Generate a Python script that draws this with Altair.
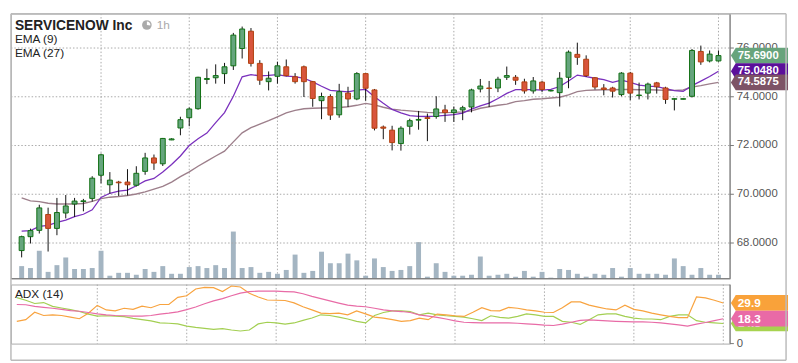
import altair as alt
import pandas as pd

# ---------------- data ----------------
idx = list(range(80))

open_ = [67.69, 68.26, 68.52, 69.17, 68.60, 69.23, 69.60, 69.70, 69.83, 70.78,
         70.39, 70.50, 70.50, 70.37, 70.94, 71.49, 71.25, 72.23, 72.72, 73.14,
         73.51, 74.71, 74.78, 74.95, 75.27, 75.98, 76.69, 75.37, 74.62, 74.84,
         75.23, 74.82, 75.23, 74.62, 73.84, 74.01, 73.26, 74.15, 73.91, 74.95,
         74.28, 72.76, 72.63, 72.08, 72.79, 73.04, 73.14, 73.19, 73.46, 73.35,
         73.46, 73.58, 74.32, 74.36, 74.36, 74.80, 74.80, 74.61, 74.24, 74.60,
         74.24, 74.17, 74.80, 75.74, 75.54, 74.78, 74.36, 74.36, 74.09, 74.97,
         74.05, 74.15, 74.57, 74.36, 73.90, 73.90, 74.02, 75.86, 75.47, 75.47]

close = [68.26, 68.51, 69.44, 68.60, 69.25, 69.52, 69.72, 69.73, 70.66, 71.62,
         70.58, 70.47, 70.39, 70.86, 71.49, 71.28, 72.29, 72.27, 73.06, 73.50,
         74.80, 74.75, 74.87, 75.23, 76.53, 76.78, 75.37, 74.68, 74.76, 75.27,
         74.87, 74.62, 74.62, 73.93, 74.01, 73.25, 74.21, 73.91, 74.95, 74.35,
         72.71, 72.71, 72.12, 72.71, 73.02, 73.07, 73.11, 73.50, 73.35, 73.46,
         73.55, 74.28, 74.44, 74.34, 74.72, 74.87, 74.68, 74.24, 74.65, 74.30,
         74.26, 74.76, 75.83, 75.62, 74.87, 74.40, 74.30, 74.23, 74.97, 74.15,
         74.07, 74.52, 74.41, 73.89, 73.92, 73.92, 75.90, 75.43, 75.75, 75.69]

high = [68.30, 68.59, 69.57, 69.45, 69.85, 69.97, 69.85, 69.81, 70.74, 71.67,
        70.91, 70.55, 71.03, 71.15, 71.70, 71.63, 72.31, 72.30, 73.18, 73.56,
        74.82, 75.15, 75.33, 75.39, 76.62, 76.88, 76.82, 75.50, 75.04, 75.44,
        75.53, 74.97, 75.28, 74.65, 74.17, 74.10, 74.53, 74.41, 75.01, 74.96,
        74.32, 72.82, 72.81, 72.79, 73.10, 73.42, 73.31, 74.02, 73.67, 73.60,
        73.63, 74.33, 74.73, 74.65, 74.82, 75.24, 74.89, 74.74, 74.81, 74.65,
        74.28, 75.01, 75.90, 76.22, 75.70, 74.81, 74.52, 74.41, 75.01, 75.02,
        74.58, 74.58, 74.61, 74.41, 73.94, 73.93, 75.96, 76.10, 75.90, 75.90]

low = [67.41, 67.98, 68.39, 67.65, 68.32, 69.01, 69.07, 69.30, 69.70, 70.45,
       70.03, 69.93, 69.95, 70.32, 70.80, 71.00, 71.16, 72.22, 72.42, 72.79,
       73.47, 74.52, 74.54, 74.53, 75.10, 75.57, 75.24, 74.49, 74.26, 74.54,
       74.84, 74.54, 73.99, 73.59, 73.08, 73.05, 73.14, 73.58, 73.86, 73.84,
       72.62, 72.26, 71.80, 71.79, 72.45, 72.65, 72.18, 73.10, 72.97, 72.97,
       73.04, 73.36, 74.18, 73.58, 74.19, 74.69, 74.49, 74.13, 74.13, 74.19,
       74.22, 73.60, 74.35, 75.31, 74.82, 74.30, 74.06, 73.97, 74.02, 73.86,
       73.89, 73.89, 74.13, 73.71, 73.44, 73.89, 73.97, 75.31, 75.41, 75.44]

volume_k = [13, 11, 29, 7, 14, 22, 10, 10, 11, 29,
            3, 6, 6, 4, 10, 7, 13, 5, 5, 12,
            13, 11, 14, 11, 49, 11, 12, 6, 7, 5,
            9, 25, 6, 8, 28, 16, 16, 26, 19, 3,
            21, 12, 8, 9, 13, 38, 2, 16, 7, 3,
            3, 4, 23, 3, 4, 5, 2, 8, 2, 7,
            1, 10, 9, 5, 2, 5, 4, 11, 2, 11,
            5, 5, 5, 4, 21, 13, 4, 11, 4, 4]

ema9 = [68.49, 68.51, 68.68, 68.72, 68.85, 68.94, 69.08, 69.18, 69.36, 69.87,
        70.04, 70.13, 70.17, 70.35, 70.55, 70.65, 70.91, 71.22, 71.57, 72.00,
        72.28, 72.51, 72.94, 73.35, 74.02, 74.82, 74.91, 74.86, 74.88, 74.91,
        74.85, 74.83, 74.76, 74.61, 74.43, 74.26, 74.23, 74.20, 74.27, 74.30,
        74.00, 73.73, 73.48, 73.34, 73.23, 73.20, 73.19, 73.21, 73.24, 73.27,
        73.33, 73.49, 73.63, 73.74, 73.93, 74.14, 74.29, 74.29, 74.29, 74.27,
        74.30, 74.42, 74.65, 74.89, 74.83, 74.76, 74.70, 74.59, 74.68, 74.59,
        74.48, 74.44, 74.42, 74.33, 74.25, 74.22, 74.46, 74.64, 74.83, 75.05]

ema27 = [69.85, 69.73, 69.70, 69.63, 69.60, 69.60, 69.60, 69.62, 69.71, 69.82,
         69.88, 69.91, 69.95, 70.01, 70.10, 70.21, 70.32, 70.50, 70.72, 70.92,
         71.15, 71.36, 71.57, 71.77, 72.15, 72.52, 72.73, 72.88, 73.02, 73.18,
         73.34, 73.44, 73.51, 73.53, 73.54, 73.55, 73.56, 73.59, 73.65, 73.73,
         73.67, 73.57, 73.49, 73.45, 73.42, 73.39, 73.36, 73.34, 73.35, 73.36,
         73.38, 73.42, 73.53, 73.59, 73.65, 73.70, 73.80, 73.84, 73.90, 73.92,
         73.95, 73.98, 74.08, 74.21, 74.26, 74.28, 74.29, 74.29, 74.30, 74.30,
         74.29, 74.29, 74.28, 74.26, 74.26, 74.28, 74.40, 74.46, 74.53, 74.59]

adx_orange = [16.4, 17.6, 23.1, 20.7, 21.2, 20.7, 19.5, 18.3, 22.4, 28.1,
              24.8, 24.1, 26.0, 25.2, 27.6, 26.4, 28.8, 28.8, 34.0, 35.2,
              40.2, 41.4, 41.2, 38.3, 42.4, 41.7, 37.1, 34.3, 32.1, 31.9,
              31.7, 30.0, 27.1, 24.8, 22.4, 22.1, 22.4, 21.2, 24.1, 21.9,
              19.5, 18.8, 17.6, 16.4, 16.9, 18.8, 17.6, 21.7, 21.2, 20.5,
              20.0, 23.1, 26.4, 24.3, 24.1, 26.7, 26.0, 24.8, 24.1, 23.1,
              22.9, 26.4, 30.7, 30.7, 28.3, 26.9, 25.5, 24.8, 28.3, 25.2,
              24.1, 22.4, 21.2, 20.0, 19.1, 19.1, 34.3, 33.6, 31.9, 29.9]

adx_pink = [28.8, 28.6, 27.4, 26.7, 26.0, 25.2, 24.3, 23.8, 22.9, 21.9,
            21.2, 20.7, 20.5, 20.2, 20.2, 20.7, 21.7, 22.4, 23.3, 25.0,
            26.9, 29.3, 31.4, 33.1, 35.2, 37.1, 38.3, 38.6, 38.6, 38.6,
            38.3, 38.1, 36.7, 34.8, 33.1, 31.4, 29.8, 28.3, 27.6, 27.1,
            26.0, 24.8, 24.1, 23.6, 22.9, 21.2, 20.2, 19.3, 18.1, 16.7,
            15.7, 15.5, 15.2, 15.2, 15.2, 15.2, 15.0, 14.5, 14.1, 13.6,
            13.3, 14.3, 15.7, 17.1, 17.4, 17.1, 16.7, 16.4, 16.2, 16.0,
            16.0, 15.7, 15.2, 14.5, 13.8, 12.9, 14.3, 15.5, 16.9, 18.3]

adx_green = [33.8, 31.9, 29.5, 30.2, 27.4, 26.2, 25.0, 23.6, 21.7, 20.2,
             20.5, 20.2, 19.8, 18.6, 17.6, 16.7, 15.2, 15.0, 14.5, 12.9,
             11.9, 11.2, 10.5, 11.0, 10.0, 9.3, 10.0, 14.5, 15.7, 15.2,
             14.3, 15.2, 17.1, 18.8, 21.2, 20.7, 19.5, 18.1, 16.4, 15.2,
             20.7, 22.9, 24.1, 24.1, 23.6, 21.2, 22.4, 21.2, 20.5, 20.0,
             19.5, 18.3, 16.9, 20.5, 19.3, 18.8, 20.0, 21.9, 21.2, 20.0,
             20.0, 16.4, 15.7, 14.1, 17.6, 21.2, 21.9, 21.9, 20.0, 18.8,
             18.1, 18.1, 17.6, 20.0, 21.2, 21.2, 16.9, 15.7, 15.2, 14.8]

tick_idx = [9, 19, 29, 39, 49, 59, 69, 79]
tick_labels = ['8h 10/01', '3h 10/05', '6h 10/06', '2h 10/08',
               '5h 10/09', '8h 10/12', '3h 10/14', '7h 10/15']
price_ticks = [68, 70, 72, 74, 76]
adx_ticks = [0]

price_tag_values = [75.69, 75.048, 74.5875]
price_tag_labels = ['75.6900', '75.0480', '74.5875']
price_tag_colors = ['#67a47c', '#5b0f9a', '#7d5366']

adx_tag_values = [14.8, 29.9, 18.3]
adx_tag_labels = ['14.8', '29.9', '18.3']
adx_tag_colors = ['#a7d34f', '#f9a23a', '#e96aa6']

# ---------------- tables ----------------
df = pd.DataFrame({'i': idx, 'open': open_, 'high': high, 'low': low, 'close': close,
                   'vol': volume_k, 'ema9': ema9, 'ema27': ema27,
                   'orange': adx_orange, 'pink': adx_pink, 'green': adx_green})
df['dir'] = ['up' if c >= o else 'down' for o, c in zip(open_, close)]

pticks = pd.DataFrame({'v': price_ticks})
aticks = pd.DataFrame({'v': adx_ticks})
xticks = pd.DataFrame({'i': tick_idx})
one = pd.DataFrame({'t': [1]})

# ---------------- layout ----------------
W, H1, H2, GAP = 730, 269, 60, 6
FR = W + 57          # right edge of outer frame
FB = 77              # bottom edge of outer frame (ADX panel coords)

xs = alt.Scale(domain=[-0.654, 79.74], nice=False, zero=False)
ps = alt.Scale(domain=[66.54, 77.41], nice=False, zero=False)
vs = alt.Scale(domain=[0, 276], nice=False, zero=True)
ads = alt.Scale(domain=[0, 43.5], nice=False, zero=True)

GRIDC = '#a9a9a9'
GDASH = [1.5, 2]
AXC = '#777'
TAG = "M-1,0L-0.83,-0.276L1,-0.276L1,0.276L-0.83,0.276Z"

base = alt.Chart(df)
x_none = alt.X('i:Q', scale=xs, axis=None)


def tag_layers(values, labels, colors, scale, fsize):
    """One tag (arrow box + white value text) per row, drawn in order so later tags cover earlier ones."""
    out = []
    for v, lab, c in zip(values, labels, colors):
        d = pd.DataFrame({'v': [v], 'label': [lab]})
        out.append(alt.Chart(d).mark_point(shape=TAG, size=58 * 58, filled=True, opacity=1,
                                           strokeWidth=0, color=c).encode(
            x=alt.value(W + 30), y=alt.Y('v:Q', scale=scale, axis=None)))
        out.append(alt.Chart(d).mark_text(align='left', baseline='middle', color='white',
                                          fontSize=fsize, fontWeight='bold').encode(
            x=alt.value(W + 8), y=alt.Y('v:Q', scale=scale, axis=None), text='label:N'))
    return out


# ---------------- main (price) panel ----------------
grid_v = alt.Chart(xticks).mark_rule(color=GRIDC, strokeDash=GDASH, strokeWidth=1).encode(
    x=x_none, y=alt.value(0), y2=alt.value(H1))

vol = base.mark_bar(size=5, color='#a4b5c2').encode(
    x=x_none, y=alt.Y('vol:Q', scale=vs, axis=None))

grid_h = alt.Chart(pticks).mark_rule(color=GRIDC, strokeDash=GDASH, strokeWidth=1).encode(
    x=alt.value(0), x2=alt.value(W), y=alt.Y('v:Q', scale=ps, axis=None))
tick_h = alt.Chart(pticks).mark_rule(color=AXC, strokeWidth=1).encode(
    x=alt.value(W), x2=alt.value(W + 4), y=alt.Y('v:Q', scale=ps, axis=None))
lab_h = alt.Chart(pticks).mark_text(align='left', baseline='middle', fontSize=11.5, color='#555').encode(
    x=alt.value(W + 7), y=alt.Y('v:Q', scale=ps, axis=None), text=alt.Text('v:Q', format='.4f'))

e27 = base.mark_line(color='#9d7f8b', strokeWidth=1.4).encode(
    x=x_none, y=alt.Y('ema27:Q', scale=ps, axis=None))
e9 = base.mark_line(color='#7a30bd', strokeWidth=1.3).encode(
    x=x_none, y=alt.Y('ema9:Q', scale=ps, axis=None))
wick = base.mark_rule(color='#111', strokeWidth=1).encode(
    x=x_none, y=alt.Y('low:Q', scale=ps, axis=None), y2='high:Q')
body = base.mark_bar(size=5, strokeWidth=1).encode(
    x=x_none, y=alt.Y('open:Q', scale=ps, axis=None), y2='close:Q',
    fill=alt.Fill('dir:N', scale=alt.Scale(domain=['up', 'down'], range=['#65a57d', '#d8553c']), legend=None),
    stroke=alt.Stroke('dir:N', scale=alt.Scale(domain=['up', 'down'], range=['#0f6f12', '#b0400e']), legend=None))

price = alt.layer(grid_h, e27, e9, wick, body, tick_h, lab_h,
                  *tag_layers(price_tag_values, price_tag_labels, price_tag_colors, ps, 11.5))

dom_r = alt.Chart(one).mark_rule(color=AXC, strokeWidth=1).encode(
    x=alt.value(W), y=alt.value(0), y2=alt.value(H1))
dom_b = alt.Chart(one).mark_rule(color=AXC, strokeWidth=1).encode(
    x=alt.value(0), x2=alt.value(W), y=alt.value(H1))

title = alt.Chart(pd.DataFrame({'t': ['SERVICENOW Inc']})).mark_text(
    align='left', baseline='alphabetic', fontSize=14, fontWeight='bold', color='#222').encode(
    text='t:N', x=alt.value(4), y=alt.value(16.5))
hour = alt.Chart(pd.DataFrame({'t': ['1h']})).mark_text(
    align='left', baseline='alphabetic', fontSize=12, color='#aaa').encode(
    text='t:N', x=alt.value(148), y=alt.value(16))
clock = alt.Chart(one).mark_point(
    shape='circle', size=95, filled=True, opacity=1, color='#aaa').encode(
    x=alt.value(138), y=alt.value(11.5))
clock_w = alt.Chart(one).mark_arc(
    radius=3.6, theta=0, theta2=1.75, color='white').encode(
    x=alt.value(138), y=alt.value(11.5))
leg = alt.Chart(pd.DataFrame({'t': ['EMA (9)', 'EMA (27)'], 'y': [30, 44]})).mark_text(
    align='left', baseline='alphabetic', fontSize=12, color='#222').encode(
    text='t:N', x=alt.value(4), y=alt.Y('y:Q', scale=None, axis=None))
frame_top = alt.Chart(one).mark_rule(color='#bbb', strokeWidth=1.5).encode(
    x=alt.value(0), x2=alt.value(FR), y=alt.value(0))

main = alt.layer(grid_v, vol, price, dom_r, dom_b, title, hour, clock, clock_w, leg,
                 frame_top).resolve_scale(y='independent').properties(width=W, height=H1)

# ---------------- ADX panel ----------------
expr = " : ".join(f"datum.value == {v} ? '{s}'" for v, s in zip(tick_idx, tick_labels)) + " : ''"
x_adx = alt.X('i:Q', scale=xs, axis=alt.Axis(values=tick_idx, labelExpr=expr, grid=False,
                                             ticks=True, tickSize=4, tickColor='#999',
                                             domainColor=AXC, labelColor='#444',
                                             labelFontSize=11.5, labelPadding=2, title=None))

grid_va = alt.Chart(xticks).mark_rule(color=GRIDC, strokeDash=GDASH, strokeWidth=1).encode(
    x=x_none, y=alt.value(0), y2=alt.value(H2))

l_green = base.mark_line(color='#a3cf52', strokeWidth=1.2).encode(
    x=x_adx, y=alt.Y('green:Q', scale=ads, axis=None))
l_pink = base.mark_line(color='#e86ba6', strokeWidth=1.2).encode(
    x=x_none, y=alt.Y('pink:Q', scale=ads, axis=None))
l_orange = base.mark_line(color='#f8a33f', strokeWidth=1.2).encode(
    x=x_none, y=alt.Y('orange:Q', scale=ads, axis=None))

tick_a = alt.Chart(aticks).mark_rule(color=AXC, strokeWidth=1).encode(
    x=alt.value(W), x2=alt.value(W + 4), y=alt.Y('v:Q', scale=ads, axis=None))
lab_a = alt.Chart(aticks).mark_text(align='left', baseline='middle', fontSize=11.5, color='#555').encode(
    x=alt.value(W + 7), y=alt.Y('v:Q', scale=ads, axis=None), text=alt.Text('v:Q', format='d'))
dom_ra = alt.Chart(one).mark_rule(color=AXC, strokeWidth=1).encode(
    x=alt.value(W), y=alt.value(0), y2=alt.value(H2))

adx_title = alt.Chart(pd.DataFrame({'t': ['ADX (14)']})).mark_text(
    align='left', baseline='alphabetic', fontSize=12, color='#222').encode(
    text='t:N', x=alt.value(4), y=alt.value(14))

f_right = alt.Chart(one).mark_rule(color='#bbb', strokeWidth=1.5).encode(
    x=alt.value(FR), y=alt.value(-(H1 + GAP)), y2=alt.value(FB))
f_left = alt.Chart(one).mark_rule(color='#bbb', strokeWidth=1.5).encode(
    x=alt.value(0), y=alt.value(-(H1 + GAP)), y2=alt.value(FB))
f_bottom = alt.Chart(one).mark_rule(color='#bbb', strokeWidth=1.5).encode(
    x=alt.value(0), x2=alt.value(FR), y=alt.value(FB))

adx = alt.layer(grid_va, l_green, l_orange, l_pink, tick_a, lab_a, dom_ra,
                *tag_layers(adx_tag_values, adx_tag_labels, adx_tag_colors, ads, 12),
                adx_title, f_right, f_left, f_bottom).properties(width=W, height=H2)

chart = alt.vconcat(main, adx, spacing=GAP, bounds='flush').properties(
    padding={'left': 1, 'top': 1, 'right': 1, 'bottom': 1}
).configure(font='Liberation Sans').configure_view(stroke='#aaa', strokeWidth=1)

chart.save("out.html", embed_options={"renderer": "svg", "actions": False})
